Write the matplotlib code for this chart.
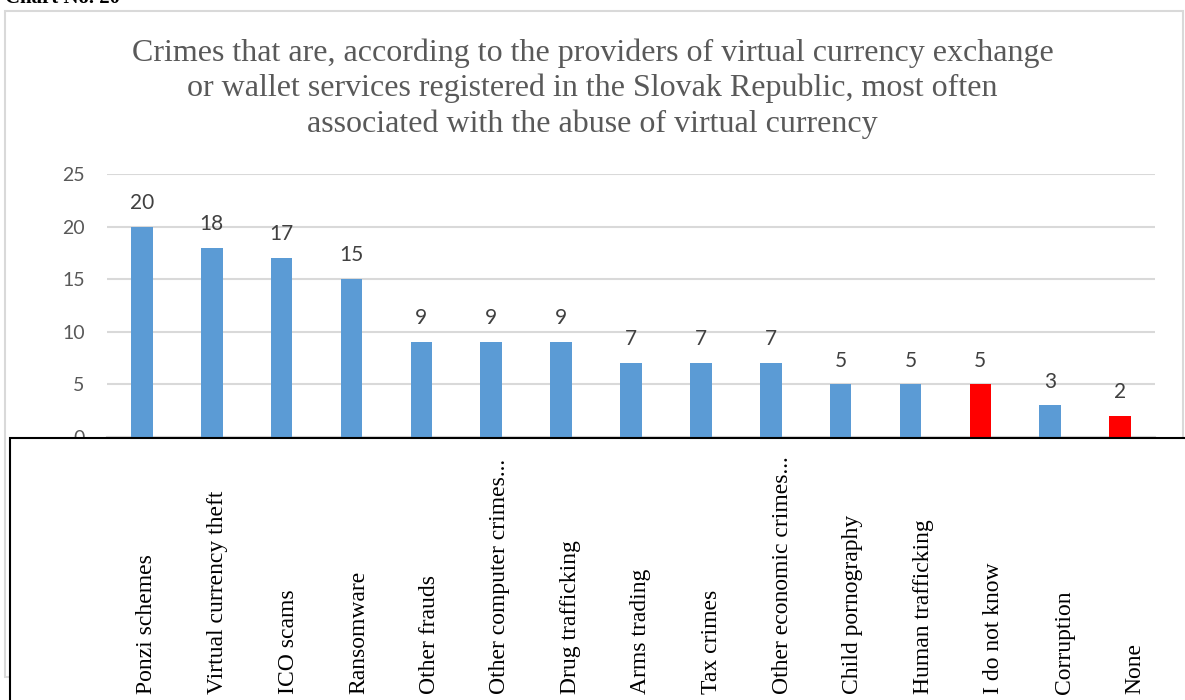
import matplotlib
matplotlib.use("Agg")
import matplotlib.pyplot as plt
from matplotlib.patches import Rectangle

categories = [
    "Ponzi schemes", "Virtual currency theft", "ICO scams", "Ransomware",
    "Other frauds", "Other computer crimes...", "Drug trafficking",
    "Arms trading", "Tax crimes", "Other economic crimes...",
    "Child pornography", "Human trafficking", "I do not know",
    "Corruption", "None",
]
values = [20, 18, 17, 15, 9, 9, 9, 7, 7, 7, 5, 5, 5, 3, 2]
highlighted = {"I do not know", "None"}
y_ticks = [0, 5, 10, 15, 20, 25]

title = ("Crimes that are, according to the providers of virtual currency exchange\n"
         "or wallet services registered in the Slovak Republic, most often\n"
         "associated with the abuse of virtual currency")

W, H = 1185, 700
fig = plt.figure(figsize=(W / 100, H / 100), dpi=100)
fig.patch.set_facecolor("white")

def fx(px):
    return px / W

def fy(py):
    return 1 - py / H

# outer chart frame
fig.add_artist(Rectangle((fx(5), fy(677)), fx(1183) - fx(5), fy(11) - fy(677),
                         transform=fig.transFigure, fill=False,
                         edgecolor="#D9D9D9", lw=1.5, zorder=1))

fig.text(fx(5), fy(3), "Chart No. 20", family="Liberation Serif",
         weight="bold", fontsize=15, ha="left", va="baseline", color="black")

ax = fig.add_axes([fx(107), fy(437), fx(1155) - fx(107), fy(174) - fy(437)])
x = list(range(len(categories)))
colors = ["#FF0000" if c in highlighted else "#5B9BD5" for c in categories]
ax.bar(x, values, width=0.31, color=colors, zorder=3)
for xi, v in zip(x, values):
    ax.annotate(str(v), (xi, v), xytext=(0, 10), textcoords="offset points",
                ha="center", va="bottom", fontsize=15, family="Lato",
                color="#404040")

ax.set_xlim(-0.5, len(categories) - 0.5)
ax.set_ylim(0, 25)
ax.set_yticks(y_ticks)
ax.set_yticklabels([str(t) for t in y_ticks], fontsize=14, family="Lato",
                   color="#595959")
ax.tick_params(axis="y", length=0, pad=16)
ax.set_xticks([])
ax.yaxis.grid(True, color="#D9D9D9", lw=1.5, zorder=0)
for s in ["left", "right", "top"]:
    ax.spines[s].set_visible(False)
ax.spines["bottom"].set_color("#D9D9D9")
ax.spines["bottom"].set_linewidth(1.5)

fig.text(0.5, fy(38), title, ha="center", va="top", family="Liberation Serif",
         fontsize=23, color="#595959", linespacing=1.27)

# category label panel
fig.add_artist(Rectangle((fx(10), -0.05), 1.1, fy(438) + 0.05,
                         transform=fig.transFigure, facecolor="white",
                         edgecolor="black", lw=1.5, zorder=5))
for xi, c in zip(x, categories):
    px = 107 + (xi + 0.5) * (1155 - 107) / len(categories) + 5 + 0.7 * xi
    fig.text(fx(px), fy(694), c, rotation=90, ha="center", va="bottom",
             family="Liberation Serif", fontsize=17, color="black", zorder=6)

fig.savefig("out.png", dpi=100)
